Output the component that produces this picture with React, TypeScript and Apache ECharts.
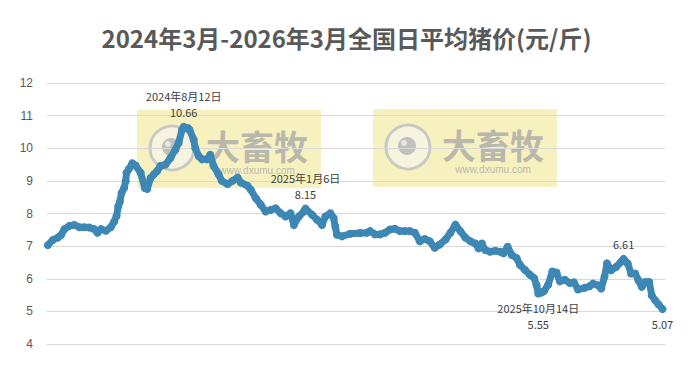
import React, { useEffect, useRef } from "react";
import * as echarts from "echarts";

const titleText = "2024年3月-2026年3月全国日平均猪价(元/斤)";
// days since 2024-03-01
const dayOffsets = [
  0, 6, 12, 16, 20, 26, 32, 38, 44, 50,
  56, 60, 64, 70, 76, 80, 83, 85, 87, 89,
  92, 94, 95, 98, 102, 106, 112, 117, 120, 124,
  128, 132, 136, 142, 148, 154, 158, 162, 164, 169,
  171, 176, 178, 182, 186, 192, 196, 200, 206, 210,
  217, 223, 229, 233, 241, 245, 251, 257, 263, 269,
  275, 281, 287, 293, 297, 303, 309, 311, 319, 325,
  331, 335, 341, 345, 347, 349, 355, 365, 377, 385,
  389, 395, 401, 407, 413, 419, 425, 431, 437, 443,
  449, 455, 461, 467, 473, 480, 486, 492, 498, 504,
  510, 516, 520, 524, 528, 534, 540, 546, 550, 555,
  560, 566, 570, 576, 582, 587, 590, 592, 596, 599,
  604, 609, 614, 618, 624, 630, 635, 640, 648, 654,
  658, 664, 668, 672, 675, 680, 686, 692, 695, 700,
  704, 709, 713, 717, 721, 726, 729, 733, 737, 742,
];
const prices = [
  7.03, 7.19, 7.26, 7.34, 7.52, 7.62, 7.65, 7.58, 7.58, 7.57,
  7.52, 7.41, 7.52, 7.47, 7.58, 7.75, 7.93, 8.22, 8.37, 8.63,
  8.78, 8.99, 9.25, 9.37, 9.54, 9.47, 9.25, 8.78, 8.75, 9.09,
  9.2, 9.3, 9.46, 9.5, 9.7, 9.96, 10.17, 10.57, 10.66, 10.62,
  10.57, 10.27, 10.0, 9.76, 9.66, 9.66, 9.8, 9.46, 9.2, 9.0,
  8.9, 9.0, 9.1, 8.95, 8.85, 8.73, 8.47, 8.27, 8.06, 8.11,
  8.16, 8.01, 7.91, 8.01, 7.65, 7.91, 8.06, 8.15, 7.96, 7.81,
  7.65, 7.91, 8.01, 7.86, 7.6, 7.35, 7.3, 7.38, 7.4, 7.41,
  7.46, 7.36, 7.36, 7.41, 7.51, 7.53, 7.46, 7.46, 7.46, 7.41,
  7.15, 7.22, 7.15, 6.95, 7.05, 7.2, 7.41, 7.66, 7.46, 7.26,
  7.15, 7.08, 6.93, 7.08, 6.88, 6.83, 6.86, 6.83, 6.78, 6.98,
  6.73, 6.63, 6.42, 6.27, 6.12, 6.02, 5.8, 5.55, 5.58, 5.62,
  5.82, 6.22, 6.19, 5.92, 5.97, 5.87, 5.89, 5.67, 5.72, 5.77,
  5.85, 5.8, 5.7, 6.06, 6.47, 6.26, 6.36, 6.52, 6.61, 6.47,
  6.16, 6.16, 5.95, 5.75, 5.9, 5.9, 5.49, 5.34, 5.22, 5.07,
];
const annotations = [
  { day: 164, text: "2024年8月12日\n10.66", position: "top" },
  { day: 311, text: "2025年1月6日\n8.15", position: "top" },
  { day: 592, text: "2025年10月14日\n5.55", position: "bottom" },
  { day: 695, text: "6.61", position: "top" },
  { day: 742, text: "5.07", position: "bottom" },
];

const LINE_COLOR = "#3d87b5";

function watermark(x: number, y: number) {
  return {
    type: "group",
    x,
    y,
    z: 100,
    children: [
      {
        type: "rect",
        shape: { x: 0, y: 0, width: 184, height: 78 },
        style: { fill: "rgba(232,216,80,0.36)" },
      },
      {
        type: "circle",
        shape: { cx: 35, cy: 38, r: 22 },
        style: { fill: "rgba(245,245,245,0.55)", stroke: "rgba(195,195,195,0.9)", lineWidth: 3 },
      },
      {
        type: "circle",
        shape: { cx: 34, cy: 37, r: 9 },
        style: { fill: "rgba(175,175,175,0.75)" },
      },
      {
        type: "circle",
        shape: { cx: 31, cy: 34, r: 3 },
        style: { fill: "rgba(235,235,235,0.9)" },
      },
      {
        type: "text",
        x: 120,
        y: 35,
        style: {
          text: "大畜牧",
          fontSize: 34,
          fontWeight: "bold",
          fontFamily: "Noto Sans CJK SC",
          fill: "rgba(165,165,165,0.75)",
          align: "center",
          verticalAlign: "middle",
        },
      },
      {
        type: "text",
        x: 120,
        y: 60,
        style: {
          text: "www.dxumu.com",
          fontSize: 10,
          fontFamily: "Liberation Sans",
          fill: "rgba(170,170,170,0.8)",
          align: "center",
          verticalAlign: "middle",
        },
      },
    ],
  };
}

export default function App() {
  const ref = useRef<HTMLDivElement>(null);
  useEffect(() => {
    document.body.style.margin = "0";
    if (!ref.current) return;
    const chart = echarts.init(ref.current, null, { renderer: "svg" });
    const data = dayOffsets.map((d, i) => {
      const ann = annotations.find((a) => a.day === d);
      if (!ann) return [d, prices[i]];
      return {
        value: [d, prices[i]],
        label: {
          show: true,
          position: ann.position,
          distance: 3,
          formatter: ann.text,
          fontSize: 11,
          lineHeight: 16,
          color: "#404040",
          fontFamily: "Noto Sans CJK SC",
          align: "center",
        },
      };
    });
    chart.setOption({
      animation: false,
      backgroundColor: "#ffffff",
      title: {
        text: titleText,
        left: "center",
        top: 20,
        textStyle: {
          fontSize: 24,
          fontWeight: "bold",
          color: "#595959",
          fontFamily: "Noto Sans CJK SC",
        },
      },
      grid: { left: 47, right: 28, top: 83, bottom: 22 },
      xAxis: {
        type: "value",
        min: -1,
        max: 745,
        show: false,
        splitLine: { show: false },
      },
      yAxis: {
        type: "value",
        min: 4,
        max: 12,
        interval: 1,
        axisLine: { show: false },
        axisTick: { show: false },
        axisLabel: { color: "#595959", fontSize: 12, margin: 14, fontFamily: "Liberation Sans" },
        splitLine: { lineStyle: { color: "#d9d9d9", width: 1 } },
      },
      series: [
        {
          type: "line",
          data,
          showAllSymbol: true,
          symbol: "circle",
          symbolSize: 8,
          itemStyle: { color: LINE_COLOR },
          lineStyle: { color: LINE_COLOR, width: 7, cap: "round", join: "round" },
          z: 2,
        },
      ],
      graphic: [watermark(137, 110), watermark(373, 109)],
    });
    return () => chart.dispose();
  }, []);
  return <div ref={ref} style={{ width: 693, height: 366 }} />;
}
